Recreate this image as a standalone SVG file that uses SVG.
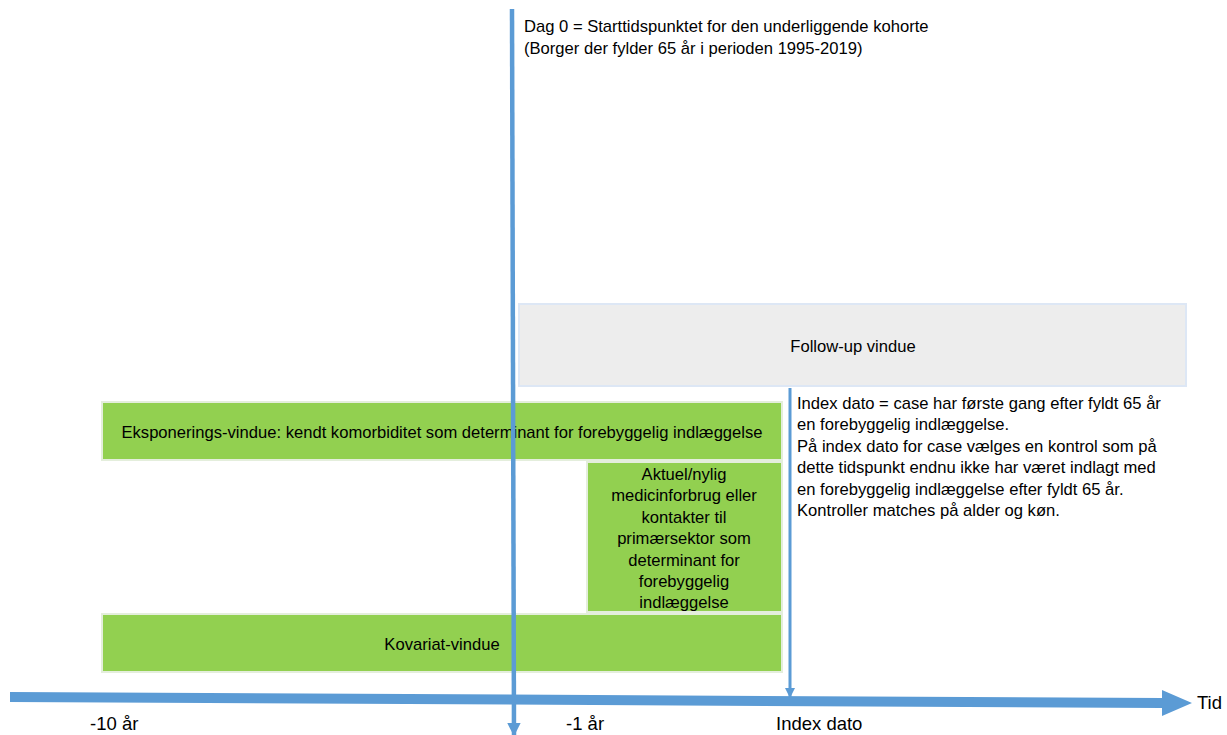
<svg xmlns="http://www.w3.org/2000/svg" width="1227" height="735" viewBox="0 0 1227 735">
<style>
text{font-family:"Liberation Sans","DejaVu Sans",sans-serif;fill:#000;font-size:16.6px}
.c{text-anchor:middle}
.b{font-size:18.5px}
.g{fill:#92D050;stroke:#E4EEDC;stroke-width:2}
.f{fill:#EDEDED;stroke:#DDE7F5;stroke-width:2}
.ln{stroke:#5B9BD5;fill:none}
</style>
<defs>
<marker id="ah" viewBox="0 0 10 10" refX="9" refY="5" markerWidth="3" markerHeight="3" orient="auto" markerUnits="strokeWidth">
<path d="M0,0 L10,5 L0,10 z" fill="#5B9BD5"/>
</marker>
<marker id="ah2" viewBox="0 0 10 10" refX="9" refY="5" markerWidth="3.5" markerHeight="3.5" orient="auto" markerUnits="strokeWidth">
<path d="M0,0 L10,5 L0,10 z" fill="#5B9BD5"/>
</marker>
</defs>
<g id="followup">
<rect class="f" x="519" y="304" width="667" height="82"/>
<text class="c" x="853" y="352">Follow-up vindue</text>
</g>
<g id="eksponering">
<rect class="g" x="102" y="402" width="680" height="58"/>
<text class="c" x="442" y="438">Eksponerings-vindue: kendt komorbiditet som determinant for forebyggelig indlæggelse</text>
</g>
<g id="aktuel">
<rect class="g" x="587" y="462" width="195" height="150"/>
<text class="c" x="684" y="480">Aktuel/nylig</text>
<text class="c" x="684" y="501">medicinforbrug eller</text>
<text class="c" x="684" y="523">kontakter til</text>
<text class="c" x="684" y="544">primærsektor som</text>
<text class="c" x="684" y="566">determinant for</text>
<text class="c" x="684" y="587">forebyggelig</text>
<text class="c" x="684" y="608">indlæggelse</text>
</g>
<g id="kovariat">
<rect class="g" x="102" y="614" width="680" height="58"/>
<text class="c" x="442" y="650">Kovariat-vindue</text>
</g>
<g id="connectors">
<line class="ln" x1="512" y1="9" x2="514" y2="735" stroke-width="4.5" marker-end="url(#ah)"/>
<line class="ln" x1="790" y1="388" x2="790" y2="697" stroke-width="3" marker-end="url(#ah2)"/>
<polygon fill="#5B9BD5" points="10,692 1162,698 1162,690 1192,703 1162,716 1162,708 10,702"/>
</g>
<g id="dag0">
<text x="524" y="32">Dag 0 = Starttidspunktet for den underliggende kohorte</text>
<text x="524" y="54">(Borger der fylder 65 år i perioden 1995-2019)</text>
</g>
<g id="indexinfo">
<text x="797" y="409">Index dato = case har første gang efter fyldt 65 år</text>
<text x="797" y="430">en forebyggelig indlæggelse.</text>
<text x="797" y="452">På index dato for case vælges en kontrol som på</text>
<text x="797" y="473">dette tidspunkt endnu ikke har været indlagt med</text>
<text x="797" y="495">en forebyggelig indlæggelse efter fyldt 65 år.</text>
<text x="797" y="516">Kontroller matches på alder og køn.</text>
</g>
<g id="labels">
<text class="b" x="90" y="730">-10 år</text>
<text class="b" x="566" y="730">-1 år</text>
<text class="b" x="776" y="730">Index dato</text>
<text class="b" x="1197" y="709">Tid</text>
</g>
</svg>
